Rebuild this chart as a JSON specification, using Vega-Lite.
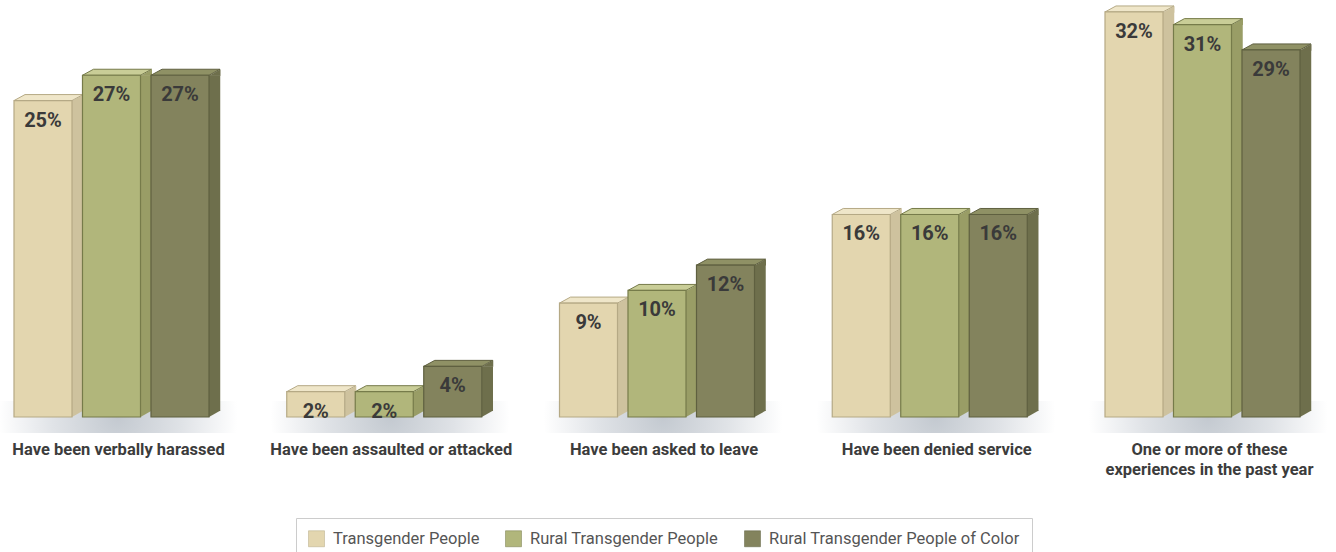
{
  "$schema": "https://vega.github.io/schema/vega-lite/v6.json",
  "width": 1314,
  "height": 412,
  "autosize": "none",
  "padding": {"left": 0, "top": 5, "right": 22, "bottom": 135},
  "background": "white",
  "config": {"view": {"stroke": null}, "font": "Roboto"},
  "data": {
    "values": [
      {"group": "Have been verbally harassed", "series": "Transgender People", "value": 0.25},
      {"group": "Have been verbally harassed", "series": "Rural Transgender People", "value": 0.27},
      {"group": "Have been verbally harassed", "series": "Rural Transgender People of Color", "value": 0.27},
      {"group": "Have been assaulted or attacked", "series": "Transgender People", "value": 0.02},
      {"group": "Have been assaulted or attacked", "series": "Rural Transgender People", "value": 0.02},
      {"group": "Have been assaulted or attacked", "series": "Rural Transgender People of Color", "value": 0.04},
      {"group": "Have been asked to leave", "series": "Transgender People", "value": 0.09},
      {"group": "Have been asked to leave", "series": "Rural Transgender People", "value": 0.10},
      {"group": "Have been asked to leave", "series": "Rural Transgender People of Color", "value": 0.12},
      {"group": "Have been denied service", "series": "Transgender People", "value": 0.16},
      {"group": "Have been denied service", "series": "Rural Transgender People", "value": 0.16},
      {"group": "Have been denied service", "series": "Rural Transgender People of Color", "value": 0.16},
      {"group": "One or more of these|experiences in the past year", "series": "Transgender People", "value": 0.32},
      {"group": "One or more of these|experiences in the past year", "series": "Rural Transgender People", "value": 0.31},
      {"group": "One or more of these|experiences in the past year", "series": "Rural Transgender People of Color", "value": 0.29}
    ]
  },
  "encoding": {
    "x": {
      "field": "group", "type": "nominal", "sort": null,
      "scale": {"paddingInner": 0.285, "paddingOuter": 0.0513},
      "axis": {
        "title": null, "domain": false, "ticks": false, "labelAngle": 0,
        "labelPadding": 24, "labelFontSize": 16.5, "labelFontWeight": "bold",
        "labelColor": "#3c3c3c", "labelFont": "Roboto", "labelLimit": 0,
        "labelOffset": 7, "labelLineHeight": 20, "labelBaseline": "top",
        "labelExpr": "split(datum.label, '|')"
      }
    },
    "y": {
      "field": "value", "type": "quantitative",
      "scale": {"domain": [0, 0.3255], "nice": false, "zero": true},
      "axis": null
    }
  },
  "resolve": {"scale": {"fill": "independent", "stroke": "independent", "xOffset": "independent"}},
  "layer": [
    {
      "transform": [{"filter": "datum.series == 'Transgender People'"}],
      "mark": {
        "type": "bar", "width": 260, "xOffset": 6, "yOffset": -16, "y2Offset": 16,
        "fill": {
          "gradient": "radial", "x1": 0.5, "y1": 0.5, "r1": 0, "x2": 0.5, "y2": 0.5, "r2": 0.5,
          "stops": [
            {"offset": 0, "color": "#c3c9d0"},
            {"offset": 0.5, "color": "#e0e3e7"},
            {"offset": 0.92, "color": "#ffffff"},
            {"offset": 1, "color": "#ffffff"}
          ]
        }
      },
      "encoding": {
        "y": {"datum": 0},
        "y2": {"datum": 0}
      }
    },
    {
      "mark": {"type": "bar", "width": 11.5, "y2Offset": -6},
      "encoding": {
        "xOffset": {
          "field": "series", "type": "nominal", "sort": null,
          "scale": {"type": "band", "paddingInner": 0.153, "paddingOuter": 0, "range": [34.5, 229.5]}
        },
        "y2": {"datum": 0},
        "fill": {
          "field": "series", "type": "nominal", "sort": null, "legend": null,
          "scale": {"range": ["#CEC29E", "#999D66", "#6E6F4C"]}
        }
      }
    },
    {
      "mark": {"type": "point", "filled": true, "opacity": 1, "size": 4, "shape": "M29,0.5 L40.5,-6 L40.5,0.5 Z"},
      "encoding": {
        "xOffset": {
          "field": "series", "type": "nominal", "sort": null,
          "scale": {"type": "band", "paddingInner": 0.153, "paddingOuter": 0}
        },
        "fill": {
          "field": "series", "type": "nominal", "sort": null, "legend": null,
          "scale": {"range": ["#CEC29E", "#999D66", "#6E6F4C"]}
        }
      }
    },
    {
      "mark": {"type": "point", "filled": true, "opacity": 1, "size": 4, "shape": "M29,-6.5 L40.5,-6.5 L29,0 Z"},
      "encoding": {
        "xOffset": {
          "field": "series", "type": "nominal", "sort": null,
          "scale": {"type": "band", "paddingInner": 0.153, "paddingOuter": 0}
        },
        "y": {"datum": 0},
        "fill": {
          "field": "series", "type": "nominal", "sort": null, "legend": null,
          "scale": {"range": ["#CEC29E", "#999D66", "#6E6F4C"]}
        }
      }
    },
    {
      "mark": {"type": "point", "filled": true, "opacity": 1, "size": 4, "strokeWidth": 1, "shape": "M-29,0 L29,0 L40,-6 L-18,-6 Z"},
      "encoding": {
        "xOffset": {
          "field": "series", "type": "nominal", "sort": null,
          "scale": {"type": "band", "paddingInner": 0.153, "paddingOuter": 0}
        },
        "fill": {
          "field": "series", "type": "nominal", "sort": null, "legend": null,
          "scale": {"range": ["#EFE6C9", "#C9CD97", "#8F9165"]}
        },
        "stroke": {
          "field": "series", "type": "nominal", "sort": null, "legend": null,
          "scale": {"range": ["#B5A985", "#767B4A", "#5F6040"]}
        }
      }
    },
    {
      "mark": {"type": "bar", "strokeWidth": 1.2},
      "encoding": {
        "xOffset": {
          "field": "series", "type": "nominal", "sort": null,
          "scale": {"type": "band", "paddingInner": 0.153, "paddingOuter": 0}
        },
        "fill": {
          "field": "series", "type": "nominal", "sort": null,
          "scale": {"range": ["#E3D6AF", "#B1B67B", "#83835D"]},
          "legend": {
            "title": null, "orient": "none", "legendX": 296, "legendY": 513,
            "direction": "horizontal", "strokeColor": "#cccccc", "fillColor": "#ffffff",
            "padding": 12, "symbolType": "square", "symbolSize": 256,
            "symbolStrokeColor": "#b8ad8c", "symbolStrokeWidth": 0.5,
            "labelFontSize": 16.5, "labelColor": "#555555", "labelFont": "Roboto",
            "labelOffset": 8, "columnPadding": 24, "labelLimit": 0
          }
        },
        "stroke": {
          "field": "series", "type": "nominal", "sort": null, "legend": null,
          "scale": {"range": ["#B5A985", "#767B4A", "#5F6040"]}
        }
      }
    },
    {
      "mark": {"type": "text", "baseline": "middle", "dy": 20, "fontSize": 20, "fontWeight": "bold", "font": "Roboto", "color": "#3a3a3a"},
      "encoding": {
        "xOffset": {
          "field": "series", "type": "nominal", "sort": null,
          "scale": {"type": "band", "paddingInner": 0.153, "paddingOuter": 0}
        },
        "text": {"field": "value", "type": "quantitative", "format": ".0%"}
      }
    }
  ]
}
